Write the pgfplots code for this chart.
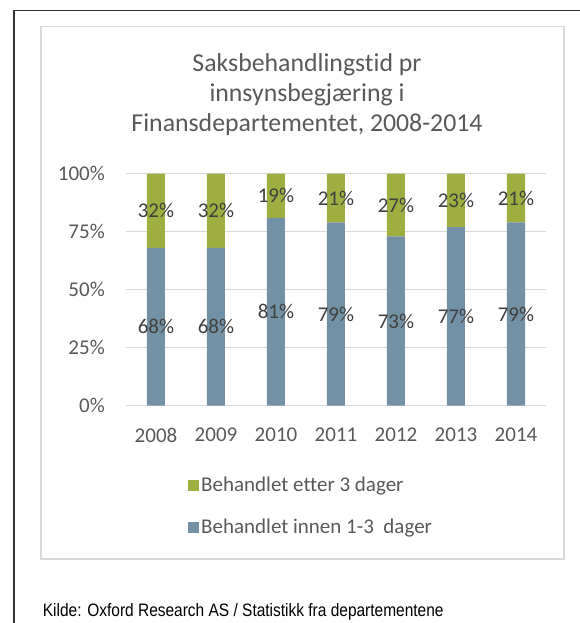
\documentclass[border=0pt]{standalone}
\usepackage{pgfplots}
\pgfplotsset{compat=1.18}
\usepackage{fontspec}
\setmainfont{Carlito}[Ligatures={NoCommon}]
\newfontfamily\capfont[FakeStretch=0.86]{Liberation Sans}
\definecolor{cgreen}{RGB}{159,174,65}
\definecolor{cblue}{RGB}{115,145,165}
\definecolor{ctext}{RGB}{89,89,89}
\definecolor{clab}{RGB}{64,64,64}
\definecolor{cgrid}{RGB}{217,217,217}
\begin{document}
\begin{tikzpicture}
\useasboundingbox (-126pt,-217.3pt) rectangle (454pt,405.7pt);
% outer frame
\draw[line width=1.5pt, color=black!80] (-112pt,-217.3pt) -- (-112pt,395.2pt) -- (454pt,395.2pt);
% chart box
\draw[line width=1.2pt, color=cgrid, fill=white] (-85pt,-153.3pt) rectangle (438pt,379.2pt);
\begin{axis}[
  at={(0pt,0pt)}, anchor=south west,
  scale only axis, width=420pt, height=232pt,
  ybar stacked, bar width=18pt,
  xmin=-0.5, xmax=6.5, ymin=0, ymax=100,
  xtick={0,...,6}, xticklabels={2008,2009,2010,2011,2012,2013,2014},
  ytick={0,25,50,75,100}, yticklabels={0\%,25\%,50\%,75\%,100\%},
  ymajorgrids, grid style={cgrid, line width=1.2pt},
  axis line style={draw=none}, major tick length=0pt,
  tick label style={font=\fontsize{21}{25}\selectfont, text=ctext},
  xticklabel style={anchor=north, inner sep=0pt, yshift=-22pt},
  yticklabel style={anchor=east, inner sep=0pt, xshift=-21pt},
  legend style={at={(axis description cs:0.1476,-0.298)}, anchor=north west, draw=none, fill=none,
    font=\fontsize{21}{25}\selectfont, text=ctext, row sep=22pt, inner sep=0pt,
    cells={anchor=west}},
  legend image code/.code={\fill (0pt,-5.5pt) rectangle (11pt,5.5pt);},
  reverse legend,
]
\addplot[fill=cblue, draw=none] coordinates {(0,68) (1,68) (2,81) (3,79) (4,73) (5,77) (6,79)};
\addplot[fill=cgreen, draw=none] coordinates {(0,32) (1,32) (2,19) (3,21) (4,27) (5,23) (6,21)};
\legend{Behandlet innen 1-3\ \ dager, Behandlet etter 3 dager}
\end{axis}
\begin{axis}[
  at={(0pt,0pt)}, anchor=south west,
  scale only axis, width=420pt, height=232pt,
  xmin=-0.5, xmax=6.5, ymin=0, ymax=100, hide axis,
]
\addplot[only marks, mark=none, nodes near coords={\pgfplotspointmeta\%}, point meta=explicit symbolic,
  nodes near coords style={anchor=center, font=\fontsize{21}{25}\selectfont, text=clab, inner sep=0pt}]
  table[meta=lab] {
x y lab
0 34 68
1 34 68
2 40.5 81
3 39.5 79
4 36.5 73
5 38.5 77
6 39.5 79
0 84 32
1 84 32
2 90.5 19
3 89.5 21
4 86.5 27
5 88.5 23
6 89.5 21
};
\end{axis}
\node[align=center, font=\fontsize{25.8}{30}\selectfont, text=ctext] at (181pt,310.7pt)
  {Saksbehandlingstid pr\\innsynsbegjæring i\\Finansdepartementet, 2008-2014};
\node[anchor=base west, inner sep=0pt, font=\capfont\fontsize{18}{21}\selectfont] at (-83.3pt,-210.8pt)
  {Kilde: Oxford Research AS / Statistikk fra departementene};
\end{tikzpicture}
\end{document}
